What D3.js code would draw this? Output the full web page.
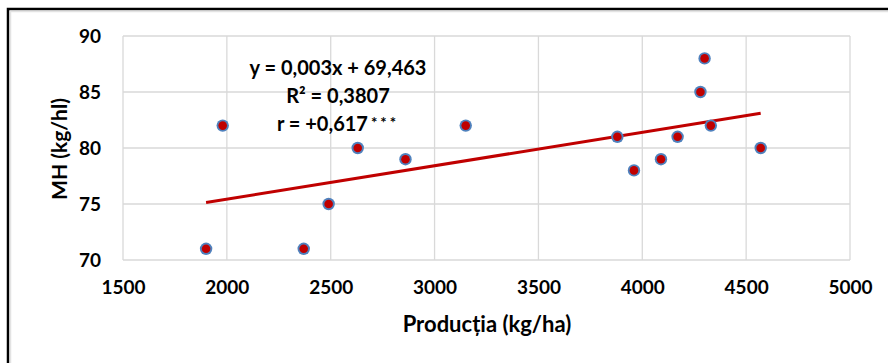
<!DOCTYPE html>
<html>
<head>
<meta charset="utf-8">
<script src="https://cdn.jsdelivr.net/npm/d3@7"></script>
<style>
  body { margin: 0; background: #fff; }
  text { font-family: Lato, "Open Sans", sans-serif; font-weight: bold; fill: #000; }
</style>
</head>
<body>
<div id="chart"></div>
<script>

// data
var productie = [1900, 1980, 2370, 2490, 2630, 2860, 3150, 3880, 3960, 4090, 4170, 4280, 4300, 4330, 4570];
var mh = [71, 82, 71, 75, 80, 79, 82, 81, 78, 79, 81, 85, 88, 82, 80];
var xTicks = [1500, 2000, 2500, 3000, 3500, 4000, 4500, 5000];
var yTicks = [70, 75, 80, 85, 90];
var eqLines = ["y = 0,003x + 69,463", "R² = 0,3807", "r = +0,617"];

window.onload = function() {

  var width = 888, height = 363;
  var plot = {left: 123, right: 850, top: 36, bottom: 260};

  var svg = d3.select("#chart").append("svg")
    .attr("width", width)
    .attr("height", height);

  // blur for the blue halo round each point
  svg.append("defs").append("filter")
    .attr("id", "soft")
    .attr("x", "-50%").attr("y", "-50%")
    .attr("width", "200%").attr("height", "200%")
    .append("feGaussianBlur")
    .attr("stdDeviation", 0.7);

  // outer frame, right and bottom edge fall outside the window
  svg.append("rect")
    .attr("x", 8).attr("y", 9)
    .attr("width", 950).attr("height", 450)
    .style("fill", "none")
    .style("stroke", "#000")
    .style("stroke-width", 2.5);
  svg.append("path")
    .attr("d", "M10.5,400V11.5H900")
    .style("fill", "none")
    .style("stroke", "#e3e3e3")
    .style("stroke-width", 1.5);

  var x = d3.scaleLinear()
    .domain([1500, 5000])
    .range([plot.left, plot.right]);

  var y = d3.scaleLinear()
    .domain([70, 90])
    .range([plot.bottom, plot.top]);

  // gridlines
  var grid = svg.append("g");
  grid.selectAll(".vgrid")
    .data(xTicks)
    .enter().append("line")
    .attr("x1", function(d) { return x(d); })
    .attr("x2", function(d) { return x(d); })
    .attr("y1", plot.top)
    .attr("y2", plot.bottom)
    .style("stroke", "#d9d9d9")
    .style("stroke-width", 1.3);
  grid.selectAll(".hgrid")
    .data(yTicks)
    .enter().append("line")
    .attr("x1", plot.left)
    .attr("x2", plot.right)
    .attr("y1", function(d) { return y(d); })
    .attr("y2", function(d) { return y(d); })
    .style("stroke", "#d9d9d9")
    .style("stroke-width", 1.3);

  // axes, only labels are shown
  var xAxis = d3.axisBottom(x).tickValues(xTicks).tickFormat(d3.format("d")).tickSize(0).tickPadding(21);
  var gx = svg.append("g")
    .attr("transform", "translate(0," + plot.bottom + ")")
    .call(xAxis);
  gx.select(".domain").remove();
  gx.selectAll("text")
    .style("font-family", "Lato, sans-serif")
    .style("font-weight", "bold")
    .style("font-size", "19px");

  var yAxis = d3.axisLeft(y).tickValues(yTicks).tickFormat(d3.format("d")).tickSize(0).tickPadding(22);
  var gy = svg.append("g")
    .attr("transform", "translate(" + plot.left + ",0)")
    .call(yAxis);
  gy.select(".domain").remove();
  gy.selectAll("text")
    .style("font-family", "Lato, sans-serif")
    .style("font-weight", "bold")
    .style("font-size", "19px");

  // axis titles
  svg.append("text")
    .attr("x", 487)
    .attr("y", 332)
    .attr("text-anchor", "middle")
    .style("font-size", "22px")
    .text("Producția (kg/ha)");

  svg.append("text")
    .attr("transform", "translate(67,149)rotate(-90)")
    .attr("text-anchor", "middle")
    .style("font-size", "21px")
    .text("MH (kg/hl)");

  // least squares trend line through the points
  var mx = d3.mean(productie), my = d3.mean(mh);
  var sxy = d3.sum(productie, function(d, i) { return (d - mx) * (mh[i] - my); });
  var sxx = d3.sum(productie, function(d) { return (d - mx) * (d - mx); });
  var slope = sxy / sxx, intercept = my - slope * mx;
  var xExt = d3.extent(productie);

  svg.append("line")
    .attr("x1", x(xExt[0]))
    .attr("y1", y(intercept + slope * xExt[0]))
    .attr("x2", x(xExt[1]))
    .attr("y2", y(intercept + slope * xExt[1]))
    .style("stroke", "#c00000")
    .style("stroke-width", 3);

  // points
  var pts = svg.append("g").selectAll("g")
    .data(productie)
    .enter().append("g")
    .attr("transform", function(d, i) { return "translate(" + x(d) + "," + y(mh[i]) + ")"; });
  pts.append("circle")
    .attr("r", 6.2)
    .attr("filter", "url(#soft)")
    .style("fill", "#4f81bd");
  pts.append("circle")
    .attr("r", 4.3)
    .style("fill", "#c00000");

  // equation box
  var eq = svg.append("text")
    .attr("text-anchor", "middle")
    .style("font-size", "20px");
  eq.selectAll("tspan")
    .data(eqLines)
    .enter().append("tspan")
    .attr("x", 338)
    .attr("y", function(d, i) { return 75 + i * 28; })
    .text(function(d) { return d; })
    .filter(function(d, i) { return i == 2; })
    .append("tspan")
    .attr("dx", 3)
    .attr("dy", -3)
    .style("font-size", "15px")
    .style("letter-spacing", "3px")
    .text("***");
};
</script>
</body>
</html>
